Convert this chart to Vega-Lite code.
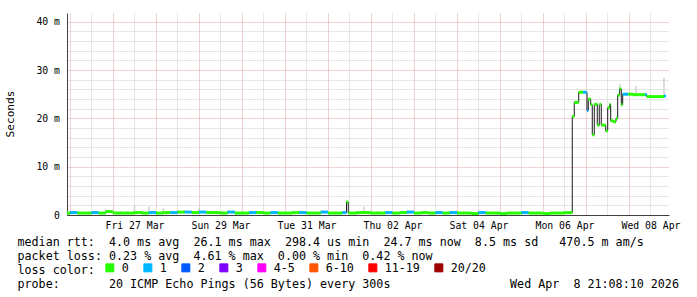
{
  "$schema": "https://vega.github.io/schema/vega-lite/v6.json",
  "autosize": {"type": "none"},
  "padding": {"left": 67, "top": 13, "right": 28, "bottom": 82},
  "width": 602,
  "height": 202,
  "background": "white",
  "data": {"values": [
    {"t":"2026-03-25T22:20","m":0.4,"l":"0","s":0.7},
    {"t":"2026-03-26T00:00","m":0.5,"l":"1","s":0.8},
    {"t":"2026-03-26T04:00","m":0.4,"l":"0","s":0.7},
    {"t":"2026-03-26T08:00","m":0.4,"l":"0","s":0.6},
    {"t":"2026-03-26T12:00","m":0.5,"l":"1","s":0.8},
    {"t":"2026-03-26T16:00","m":0.4,"l":"0","s":0.7},
    {"t":"2026-03-26T20:00","m":0.7,"l":"0","s":1.2},
    {"t":"2026-03-27T00:00","m":0.4,"l":"0","s":0.8},
    {"t":"2026-03-27T04:00","m":0.4,"l":"0","s":0.7},
    {"t":"2026-03-27T08:00","m":0.4,"l":"0","s":0.8},
    {"t":"2026-03-27T12:00","m":0.5,"l":"0","s":2.1},
    {"t":"2026-03-27T16:00","m":0.4,"l":"0","s":0.9},
    {"t":"2026-03-27T20:00","m":0.5,"l":"1","s":1.7},
    {"t":"2026-03-28T00:00","m":0.4,"l":"0","s":0.8},
    {"t":"2026-03-28T04:00","m":0.5,"l":"0","s":1.4},
    {"t":"2026-03-28T08:00","m":0.5,"l":"1","s":0.9},
    {"t":"2026-03-28T12:00","m":0.6,"l":"0","s":1.0},
    {"t":"2026-03-28T16:00","m":0.6,"l":"1","s":1.0},
    {"t":"2026-03-28T20:00","m":0.5,"l":"0","s":0.8},
    {"t":"2026-03-29T00:00","m":0.6,"l":"1","s":1.4},
    {"t":"2026-03-29T04:00","m":0.5,"l":"0","s":0.8},
    {"t":"2026-03-29T08:00","m":0.5,"l":"0","s":0.8},
    {"t":"2026-03-29T12:00","m":0.4,"l":"0","s":0.7},
    {"t":"2026-03-29T16:00","m":0.6,"l":"1","s":1.0},
    {"t":"2026-03-29T20:00","m":0.4,"l":"0","s":0.7},
    {"t":"2026-03-30T00:00","m":0.4,"l":"0","s":0.7},
    {"t":"2026-03-30T04:00","m":0.5,"l":"1","s":0.9},
    {"t":"2026-03-30T08:00","m":0.5,"l":"0","s":0.9},
    {"t":"2026-03-30T12:00","m":0.4,"l":"0","s":0.7},
    {"t":"2026-03-30T16:00","m":0.5,"l":"1","s":0.8},
    {"t":"2026-03-30T20:00","m":0.4,"l":"0","s":0.7},
    {"t":"2026-03-31T00:00","m":0.4,"l":"0","s":0.7},
    {"t":"2026-03-31T04:00","m":0.5,"l":"0","s":0.9},
    {"t":"2026-03-31T08:00","m":0.5,"l":"1","s":1.0},
    {"t":"2026-03-31T12:00","m":0.4,"l":"0","s":0.8},
    {"t":"2026-03-31T16:00","m":0.4,"l":"0","s":0.7},
    {"t":"2026-03-31T20:00","m":0.6,"l":"1","s":0.9},
    {"t":"2026-04-01T00:00","m":0.4,"l":"0","s":1.0},
    {"t":"2026-04-01T04:00","m":0.4,"l":"0","s":0.7},
    {"t":"2026-04-01T08:00","m":0.5,"l":"1","s":0.8},
    {"t":"2026-04-01T10:20","m":2.7,"l":"0"},
    {"t":"2026-04-01T11:20","m":0.4,"l":"0","s":0.7},
    {"t":"2026-04-01T16:00","m":0.5,"l":"0","s":0.8},
    {"t":"2026-04-01T20:00","m":0.5,"l":"0","s":1.7},
    {"t":"2026-04-02T00:00","m":0.4,"l":"0","s":0.9},
    {"t":"2026-04-02T04:00","m":0.4,"l":"0","s":0.9},
    {"t":"2026-04-02T08:00","m":0.5,"l":"1","s":0.8},
    {"t":"2026-04-02T12:00","m":0.4,"l":"0","s":0.7},
    {"t":"2026-04-02T16:00","m":0.5,"l":"0","s":0.8},
    {"t":"2026-04-02T20:00","m":0.6,"l":"1","s":0.9},
    {"t":"2026-04-03T00:00","m":0.4,"l":"0","s":0.7},
    {"t":"2026-04-03T04:00","m":0.5,"l":"0","s":0.8},
    {"t":"2026-04-03T08:00","m":0.4,"l":"0","s":0.7},
    {"t":"2026-04-03T12:00","m":0.5,"l":"1","s":0.8},
    {"t":"2026-04-03T16:00","m":0.4,"l":"0","s":0.7},
    {"t":"2026-04-03T20:00","m":0.5,"l":"1","s":0.8},
    {"t":"2026-04-04T00:00","m":0.4,"l":"0","s":0.9},
    {"t":"2026-04-04T04:00","m":0.4,"l":"0","s":0.7},
    {"t":"2026-04-04T08:00","m":0.3,"l":"0","s":0.6},
    {"t":"2026-04-04T12:00","m":0.5,"l":"1","s":0.8},
    {"t":"2026-04-04T16:00","m":0.4,"l":"0","s":0.7},
    {"t":"2026-04-04T20:00","m":0.4,"l":"0","s":0.6},
    {"t":"2026-04-05T00:00","m":0.3,"l":"0","s":0.6},
    {"t":"2026-04-05T04:00","m":0.4,"l":"0","s":0.6},
    {"t":"2026-04-05T08:00","m":0.4,"l":"0","s":0.7},
    {"t":"2026-04-05T12:00","m":0.5,"l":"1","s":0.8},
    {"t":"2026-04-05T16:00","m":0.4,"l":"0","s":0.6},
    {"t":"2026-04-05T20:00","m":0.4,"l":"0","s":0.6},
    {"t":"2026-04-06T00:00","m":0.3,"l":"0","s":0.6},
    {"t":"2026-04-06T04:00","m":0.4,"l":"0","s":0.6},
    {"t":"2026-04-06T08:00","m":0.4,"l":"0","s":0.6},
    {"t":"2026-04-06T12:00","m":0.5,"l":"0","s":0.7},
    {"t":"2026-04-06T16:21","m":20.4,"l":"0"},
    {"t":"2026-04-06T17:28","m":23.3,"l":"0"},
    {"t":"2026-04-06T19:56","m":25.4,"l":"0"},
    {"t":"2026-04-06T22:20","m":25.4,"l":"1"},
    {"t":"2026-04-07T00:33","m":21.6,"l":"1"},
    {"t":"2026-04-07T01:17","m":24.0,"l":"0"},
    {"t":"2026-04-07T02:37","m":22.8,"l":"0"},
    {"t":"2026-04-07T03:31","m":16.6,"l":"0"},
    {"t":"2026-04-07T04:38","m":22.9,"l":"0"},
    {"t":"2026-04-07T06:18","m":18.6,"l":"0"},
    {"t":"2026-04-07T07:25","m":22.9,"l":"0"},
    {"t":"2026-04-07T08:32","m":18.6,"l":"0"},
    {"t":"2026-04-07T11:00","m":17.4,"l":"0"},
    {"t":"2026-04-07T12:07","m":22.2,"l":"0"},
    {"t":"2026-04-07T13:14","m":22.9,"l":"0"},
    {"t":"2026-04-07T13:47","m":19.5,"l":"0"},
    {"t":"2026-04-07T15:14","m":19.3,"l":"0"},
    {"t":"2026-04-07T16:45","m":20.0,"l":"0"},
    {"t":"2026-04-07T17:42","m":24.8,"l":"0"},
    {"t":"2026-04-07T18:48","m":26.1,"l":"0","s":27.1},
    {"t":"2026-04-07T19:42","m":22.8,"l":"0"},
    {"t":"2026-04-07T20:29","m":25.0,"l":"1"},
    {"t":"2026-04-07T23:36","m":25.0,"l":"0"},
    {"t":"2026-04-08T02:14","m":24.9,"l":"0"},
    {"t":"2026-04-08T03:54","m":24.9,"l":"0","s":26.7},
    {"t":"2026-04-08T05:11","m":24.9,"l":"0"},
    {"t":"2026-04-08T08:56","m":24.9,"l":"1"},
    {"t":"2026-04-08T09:53","m":24.5,"l":"0"},
    {"t":"2026-04-08T19:32","m":24.6,"l":"1","s":28.4},
    {"t":"2026-04-08T20:39","m":null,"l":null}
  ]},
  "encoding": {
    "x": {"field": "t", "type": "temporal",
      "scale": {"domain": ["2026-03-25T22:20", "2026-04-08T22:20"], "nice": false},
      "axis": {
        "orient": "bottom",
        "values": [
          {"year":2026,"month":3,"date":26,"hours":0},{"year":2026,"month":3,"date":26,"hours":12},
          {"year":2026,"month":3,"date":27,"hours":0},{"year":2026,"month":3,"date":27,"hours":12},
          {"year":2026,"month":3,"date":28,"hours":0},{"year":2026,"month":3,"date":28,"hours":12},
          {"year":2026,"month":3,"date":29,"hours":0},{"year":2026,"month":3,"date":29,"hours":12},
          {"year":2026,"month":3,"date":30,"hours":0},{"year":2026,"month":3,"date":30,"hours":12},
          {"year":2026,"month":3,"date":31,"hours":0},{"year":2026,"month":3,"date":31,"hours":12},
          {"year":2026,"month":4,"date":1,"hours":0},{"year":2026,"month":4,"date":1,"hours":12},
          {"year":2026,"month":4,"date":2,"hours":0},{"year":2026,"month":4,"date":2,"hours":12},
          {"year":2026,"month":4,"date":3,"hours":0},{"year":2026,"month":4,"date":3,"hours":12},
          {"year":2026,"month":4,"date":4,"hours":0},{"year":2026,"month":4,"date":4,"hours":12},
          {"year":2026,"month":4,"date":5,"hours":0},{"year":2026,"month":4,"date":5,"hours":12},
          {"year":2026,"month":4,"date":6,"hours":0},{"year":2026,"month":4,"date":6,"hours":12},
          {"year":2026,"month":4,"date":7,"hours":0},{"year":2026,"month":4,"date":7,"hours":12},
          {"year":2026,"month":4,"date":8,"hours":0},{"year":2026,"month":4,"date":8,"hours":12}
        ],
        "labelExpr": "hours(datum.value) == 12 && ((month(datum.value) == 2 && date(datum.value) % 2 == 1) || (month(datum.value) == 3 && date(datum.value) % 2 == 0)) ? timeFormat(datum.value, '%a %d %b') : ''",
        "labelFont": "DejaVu Sans Mono", "labelFontSize": 9.8, "labelColor": "#000000",
        "labelPadding": 5, "labelOverlap": false, "labelFlush": false,
        "ticks": false,
        "domainColor": "#404040",
        "grid": true, "gridDash": [1, 1], "gridOpacity": 1,
        "gridColor": {"condition": {"test": "hours(datum.value) == 0", "value": "#e3a3a3"}, "value": "#cccccc"},
        "title": ["median\u00a0rtt:\u00a0\u00a04.0\u00a0ms\u00a0avg\u00a0\u00a026.1\u00a0ms\u00a0max\u00a0\u00a0298.4\u00a0us\u00a0min\u00a0\u00a024.7\u00a0ms\u00a0now\u00a0\u00a08.5\u00a0ms\u00a0sd\u00a0\u00a0\u00a0470.5\u00a0m\u00a0am/s",
                  "packet\u00a0loss:\u00a00.23\u00a0%\u00a0avg\u00a0\u00a04.61\u00a0%\u00a0max\u00a0\u00a00.00\u00a0%\u00a0min\u00a0\u00a00.42\u00a0%\u00a0now",
                  "loss\u00a0color:",
                  "probe:\u00a0\u00a0\u00a0\u00a0\u00a0\u00a0\u00a020\u00a0ICMP\u00a0Echo\u00a0Pings\u00a0(56\u00a0Bytes)\u00a0every\u00a0300s\u00a0\u00a0\u00a0\u00a0\u00a0\u00a0\u00a0\u00a0\u00a0\u00a0\u00a0\u00a0\u00a0\u00a0\u00a0\u00a0\u00a0Wed\u00a0Apr\u00a0\u00a08\u00a021:08:10\u00a02026"],
        "titleFont": "DejaVu Sans Mono", "titleFontSize": 11.7, "titleFontWeight": "normal", "titleColor": "#000000",
        "titleX": -50, "titleY": 21, "titleAlign": "left", "titleBaseline": "top", "titleLineHeight": 14
      }
    },
    "y": {"field": "m", "type": "quantitative",
      "scale": {"domain": [0, 41.8], "nice": false},
      "axis": {
        "orient": "left",
        "values": [0, 2, 4, 6, 8, 10, 12, 14, 16, 18, 20, 22, 24, 26, 28, 30, 32, 34, 36, 38, 40],
        "labelExpr": "datum.value % 10 == 0 ? (datum.value == 0 ? '0' : datum.value + ' m') : ''",
        "labelFont": "DejaVu Sans Mono", "labelFontSize": 9.8, "labelColor": "#000000",
        "labelPadding": 7.5, "labelOverlap": false, "labelBaseline": "middle",
        "ticks": false,
        "domainColor": "#404040",
        "grid": true, "gridDash": [1, 1], "gridOpacity": 1,
        "gridColor": {"condition": {"test": "datum.value % 10 == 0", "value": "#e3a3a3"}, "value": "#cccccc"},
        "title": "Seconds",
        "titleFont": "DejaVu Sans Mono", "titleFontSize": 11.1, "titleFontWeight": "normal", "titleColor": "#000000",
        "titleX": -57, "titleY": 100.5, "titleAngle": 270, "titleAlign": "center", "titleBaseline": "middle"
      }
    }
  },
  "layer": [
    {
      "transform": [{"filter": "datum.s != null"}],
      "mark": {"type": "rule", "color": "#d0d0d0", "strokeWidth": 1.5},
      "encoding": {"y2": {"field": "s"}}
    },
    {
      "transform": [{"filter": "datum.m != null"}],
      "mark": {"type": "line", "interpolate": "step-after", "color": "#1c1c1c", "strokeWidth": 1}
    },
    {
      "transform": [
        {"window": [{"op": "lead", "field": "t", "as": "t2"}], "sort": [{"field": "t", "order": "ascending"}]},
        {"filter": "datum.m != null"}
      ],
      "mark": {"type": "rule", "strokeWidth": 3, "strokeCap": "butt"},
      "encoding": {
        "x2": {"field": "t2"},
        "color": {"field": "l", "type": "nominal",
          "scale": {"domain": ["0", "1", "2", "3", "4-5", "6-10", "11-19", "20/20"], "range": ["#26ff00", "#00b8ff", "#0059ff", "#7e00ff", "#ff00ff", "#ff5500", "#ff0000", "#a10000"]},
          "legend": {"orient": "none", "legendX": 37, "legendY": 249, "direction": "horizontal", "title": null,
            "symbolType": "square", "symbolSize": 64, "symbolStrokeWidth": 1, "symbolStrokeColor": "#000000",
            "labelFont": "DejaVu Sans Mono", "labelFontSize": 11.7, "labelColor": "#000000", "labelOffset": 6,
            "columnPadding": 12, "gridAlign": "none",
            "encode": {"symbols": {"update": {"fill": {"scale": "color", "field": "value"}, "fillOpacity": {"value": 1}, "stroke": {"value": "#000000"}, "strokeWidth": {"value": 1}}}}
          }
        }
      }
    },
    {
      "data": {"values": [{"a": 1}]},
      "mark": {"type": "point", "shape": "triangle-up", "filled": true, "color": "#7f0000", "size": 25, "opacity": 1},
      "encoding": {
        "x": {"datum": {"year": 2026, "month": 3, "date": 25, "hours": 22, "minutes": 20}, "type": "temporal"},
        "y": {"datum": 42.3, "type": "quantitative"}
      }
    },
    {
      "data": {"values": [{"a": 1}]},
      "mark": {"type": "point", "shape": "triangle-right", "filled": true, "color": "#7f0000", "size": 25, "opacity": 1},
      "encoding": {
        "x": {"datum": {"year": 2026, "month": 4, "date": 8, "hours": 23, "minutes": 20}, "type": "temporal"},
        "y": {"datum": 0, "type": "quantitative"}
      }
    }
  ],
  "config": {"view": {"stroke": null}}
}
